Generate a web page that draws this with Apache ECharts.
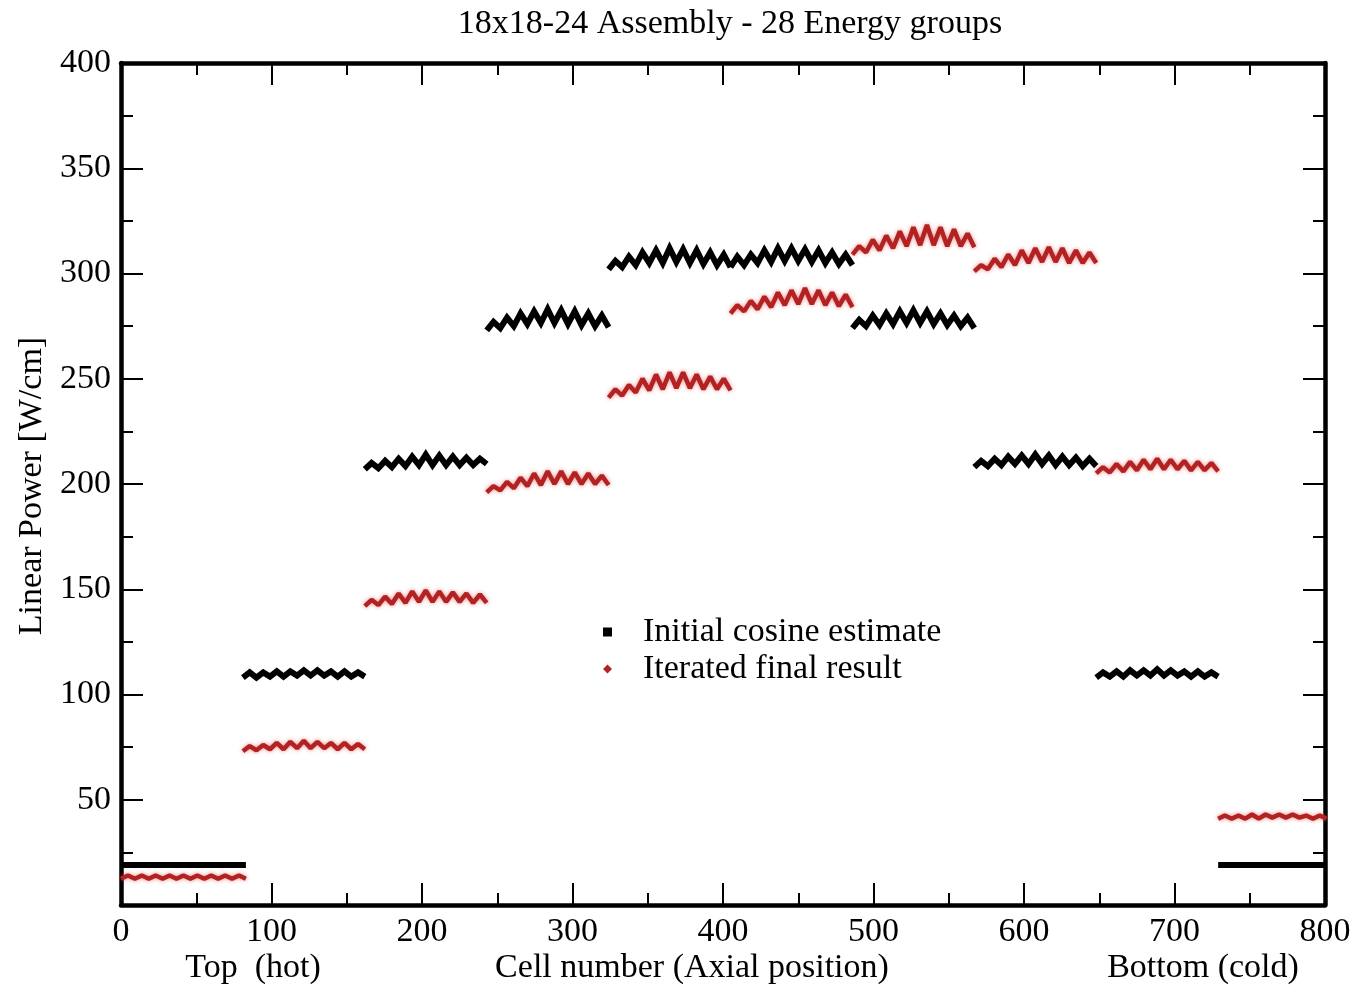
<!DOCTYPE html>
<html>
<head>
<meta charset="utf-8">
<script src="https://cdn.jsdelivr.net/npm/echarts@6/dist/echarts.min.js"></script>
<style>html,body{margin:0;padding:0;background:#fff;}#c{width:1355px;height:985px;}</style>
</head>
<body>
<div id="c"></div>
<script>
// Axial segments (cell number ranges)
const segStarts = [0, 81, 162, 243, 324, 405, 486, 567, 648, 729];
const segEnds   = [83, 162, 243, 324, 405, 486, 567, 648, 729, 801];

// Initial cosine estimate: zigzag vertex values per segment (trough/peak alternating)
const initSeg0 = [19, 19];
const initSeg1 = [108,110.5,108,110.5,108.5,111,108.5,111,109,111.5,109,111.5,109,111,108.5,111,108.5,110.5,108.5];
const initSeg2 = [207,210,207.5,211,208,212,208.5,213,209,214,209,213.5,209,213,209,212.5,209,212,209.5];
const initSeg3 = [273,277,274,279,275,281,276,282,276.5,283,276.5,282.5,276,282,275.5,281,275,280,274.5];
const initSeg4 = [302,306,303,308,304,310,305,311,305,312,305.5,311.5,305,311,304.5,310,304,309,303];
const initSeg5 = [303,308,304,309,305,311,305.5,312,306,312,306,311.5,305.5,311,305,310,304.5,309,304];
const initSeg6 = [274,278,275,280,275.5,281,276,282,276.5,282.5,276.5,282,276,281,275.5,280,275,279,274];
const initSeg7 = [208,211,208.5,212,209,213,209.5,213.5,209.5,214,209.5,213.5,209,213,209,212.5,208.5,212,208.5];
const initSeg8 = [108,110.5,108.5,111,108.5,111.5,109,111.5,109,112,109,111.5,109,111,108.5,111,108.5,110.5,108.5];
const initSeg9 = [19, 19];

// Iterated final result
const finalSeg0 = [12.5,14,12.5,14,12.5,14,12.5,14,12.5,14,12.5,14,12.5,14,12.5,14,12.5,14,12.5];
const finalSeg1 = [73,75.5,73.5,76,74,77,74,77.5,74.5,78,74.5,77.5,74.5,77,74,77,74,76.5,74];
const finalSeg2 = [142,145,142.5,146.5,143,148,143.5,149,144,149.5,144,149,144,148.5,144,148,143.5,147.5,143.5];
const finalSeg3 = [196,199,197,201,198,203,199,205,199.5,206,200,206,200,205.5,200,205,200,204,199.5];
const finalSeg4 = [241,245,242,247,243.5,250,244.5,252,245,253,245.5,253,245.5,252,245,251,245,250,244.5];
const finalSeg5 = [281,285,282,287,283,289,284,291,285,292,285.5,293,285.5,292,285,291,284.5,290,284];
const finalSeg6 = [309,313,310,316,311,318,312,320,313,322,313.5,323,313.5,322,313,321,313,319,312.5];
const finalSeg7 = [301,304,302,307,303,309,304,311,305,312,305.5,312.5,305.5,312,305,311,305,310,305];
const finalSeg8 = [205,208,205.5,209.5,206,210.5,206.5,211.5,207,212,207,211.5,207,211,206.5,210.5,206.5,210,206];
const finalSeg9 = [41,42.5,41,42.5,41,43,41,43,41.5,43,41.5,43,41.5,42.5,41,42.5,41];

const xTicks = [0,100,200,300,400,500,600,700,800];
const yTicks = [50,100,150,200,250,300,350,400];

const initSegs = [initSeg0,initSeg1,initSeg2,initSeg3,initSeg4,initSeg5,initSeg6,initSeg7,initSeg8,initSeg9];
const finalSegs = [finalSeg0,finalSeg1,finalSeg2,finalSeg3,finalSeg4,finalSeg5,finalSeg6,finalSeg7,finalSeg8,finalSeg9];

function build(segs) {
  const out = [];
  segs.forEach((vals, i) => {
    const s = segStarts[i], e = segEnds[i];
    const step = (e - s) / (vals.length - 1);
    vals.forEach((v, j) => out.push([s + j * step, v]));
    out.push([e, null]);
  });
  return out;
}

const FONT = '"Liberation Serif", "DejaVu Serif", serif';
const FS = 34;

const chart = echarts.init(document.getElementById('c'), null, {renderer: 'canvas'});

const axisCommon = {
  axisLine: {show: true, onZero: false, lineStyle: {color: '#000', width: 4.5}},
  axisTick: {show: true, inside: true, length: 22, lineStyle: {color: '#000', width: 2}},
  minorTick: {show: true, splitNumber: 2, length: 12, lineStyle: {color: '#000', width: 2}},
  splitLine: {show: false},
  minorSplitLine: {show: false}
};

chart.setOption({
  animation: false,
  backgroundColor: '#fff',
  title: {
    text: '18x18-24 Assembly - 28 Energy groups',
    left: 725, top: 2, textAlign: 'center',
    textStyle: {fontFamily: FONT, fontSize: FS, fontWeight: 'normal', color: '#000'}
  },
  grid: {left: 121, right: 30, top: 63, bottom: 80, containLabel: false},
  legend: {
    orient: 'vertical', left: 598, top: 610,
    itemWidth: 9, itemHeight: 9, itemGap: 3,
    textStyle: {fontFamily: FONT, fontSize: FS, color: '#000', lineHeight: 34, padding: [0,0,0,26]},
    data: [
      {name: 'Initial cosine estimate', icon: 'rect', itemStyle: {color: '#000'}},
      {name: 'Iterated final result', icon: 'diamond', itemStyle: {color: '#b22222'}}
    ]
  },
  xAxis: [
    Object.assign({
      type: 'value', min: 0, max: 800, interval: 100, position: 'bottom',
      axisLabel: {show: true, margin: 10, fontFamily: FONT, fontSize: FS, color: '#000',
        formatter: v => xTicks.includes(v) ? String(v) : ''}
    }, axisCommon),
    Object.assign({
      type: 'value', min: 0, max: 800, interval: 100, position: 'top',
      axisLabel: {show: false}
    }, axisCommon)
  ],
  yAxis: [
    Object.assign({
      type: 'value', min: 0, max: 400, interval: 50, position: 'left',
      axisLabel: {show: true, margin: 10, fontFamily: FONT, fontSize: FS, color: '#000',
        formatter: v => yTicks.includes(v) ? String(v) : ''}
    }, axisCommon),
    Object.assign({
      type: 'value', min: 0, max: 400, interval: 50, position: 'right',
      axisLabel: {show: false}
    }, axisCommon)
  ],
  graphic: [
    {type: 'text', x: 253, y: 968, style: {text: 'Top  (hot)', font: FS + 'px ' + FONT, fill: '#000', textAlign: 'center', textVerticalAlign: 'middle'}},
    {type: 'text', x: 692, y: 968, style: {text: 'Cell number (Axial position)', font: FS + 'px ' + FONT, fill: '#000', textAlign: 'center', textVerticalAlign: 'middle'}},
    {type: 'text', x: 1203, y: 968, style: {text: 'Bottom (cold)', font: FS + 'px ' + FONT, fill: '#000', textAlign: 'center', textVerticalAlign: 'middle'}},
    {type: 'text', x: 32, y: 486, rotation: Math.PI / 2, style: {text: 'Linear Power [W/cm]', font: FS + 'px ' + FONT, fill: '#000', textAlign: 'center', textVerticalAlign: 'middle'}}
  ],
  series: [
    {
      name: 'Initial cosine estimate', type: 'line', xAxisIndex: 0, yAxisIndex: 0,
      data: build(initSegs), showSymbol: false, connectNulls: false,
      itemStyle: {color: '#000'},
      lineStyle: {color: '#000', width: 6, join: 'miter'}
    },
    {
      name: 'Iterated final result', type: 'line', xAxisIndex: 0, yAxisIndex: 0,
      data: build(finalSegs), showSymbol: false, connectNulls: false,
      itemStyle: {color: '#b22222'},
      lineStyle: {color: '#b22222', width: 4.5, shadowBlur: 4, shadowColor: 'rgba(220,60,60,0.6)'}
    }
  ]
});
</script>
</body>
</html>
